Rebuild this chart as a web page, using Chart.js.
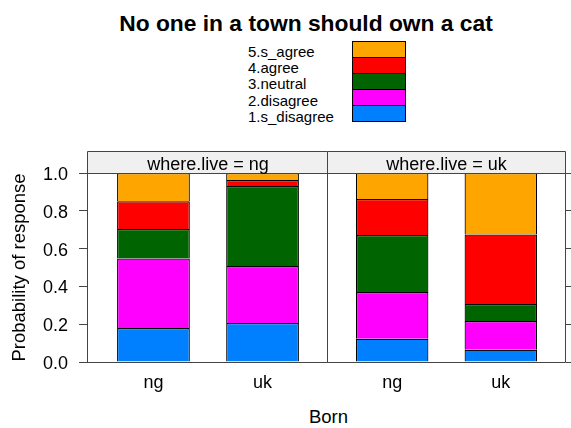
<!DOCTYPE html>
<html>
<head>
<meta charset="utf-8">
<title>No one in a town should own a cat</title>
<script src="https://cdn.jsdelivr.net/npm/chart.js@4/dist/chart.umd.min.js"></script>
<style>
    body { margin: 0; background: #fff; }
    #page {
        position: relative;
        width: 571px;
        height: 428px;
        overflow: hidden;
        font-family: 'Liberation Sans', Arial, Helvetica, sans-serif;
        color: #000;
    }
    #page canvas { position: absolute; top: 140px; }
    .title {
        position: absolute; left: 0; top: 12px; width: 612px;
        text-align: center; font-weight: bold; font-size: 22.8px; line-height: 1;
        white-space: nowrap;
    }
    .xlab {
        position: absolute; left: 0; top: 408px; width: 657px;
        text-align: center; font-size: 18.5px; line-height: 1;
    }
    .key-label {
        position: absolute; left: 248px; font-size: 15px; line-height: 16px;
        white-space: nowrap;
    }
    .key-box {
        position: absolute; left: 352px; width: 54px; height: 17px;
        box-sizing: border-box; border: 1px solid #000;
    }
</style>
</head>
<body>
<div id="page">
    <div class="title">No one in a town should own a cat</div>
    <div id="key"></div>
    <canvas id="panelNg" width="329" height="260" style="left:0"></canvas>
    <canvas id="panelUk" width="244" height="260" style="left:327px"></canvas>
    <div class="xlab">Born</div>
</div>

<script>
// response levels, bottom of the stack first
const levels = ['1.s_disagree', '2.disagree', '3.neutral', '4.agree', '5.s_agree'];
const born = ['ng', 'uk'];
const whereLive = ['ng', 'uk'];
const yTicks = [0, 0.2, 0.4, 0.6, 0.8, 1.0];

// probability of each response level (same order as levels)
const liveNgBornNg = [0.180, 0.367, 0.157, 0.146, 0.150];
const liveNgBornUk = [0.206, 0.302, 0.423, 0.032, 0.037];
const liveUkBornNg = [0.123, 0.247, 0.302, 0.190, 0.138];
const liveUkBornUk = [0.065, 0.152, 0.090, 0.367, 0.326];

const palette = ['#0080ff', '#ff00ff', '#006400', '#ff0000', '#ffa500'];
const FONT = "'Liberation Sans', Arial, Helvetica, sans-serif";

Chart.defaults.font.family = FONT;
Chart.defaults.color = '#000';

// key: text column on the left, stacked colour boxes on the right (top level first)
function buildKey() {
    const key = document.getElementById('key');
    const top = levels.slice().reverse();
    top.forEach((lvl, i) => {
        const label = document.createElement('div');
        label.className = 'key-label';
        label.style.top = (43.5 + i * 16.4) + 'px';
        label.textContent = lvl;
        key.appendChild(label);

        const box = document.createElement('div');
        box.className = 'key-box';
        box.style.top = (41 + i * 16) + 'px';
        box.style.background = palette[levels.length - 1 - i];
        key.appendChild(box);
    });
}

// strip on top of each panel plus the panel frame
const panelFrame = {
    id: 'panelFrame',
    afterDraw(chart, args, opts) {
        const { ctx, chartArea: a } = chart;
        const xl = Math.max(a.left - 0.5, 0.5);
        const xr = a.right - 0.5;
        const st = opts.stripTop + 0.5;
        const yt = a.top + 0.5;
        const yb = a.bottom + 0.5;
        ctx.save();
        ctx.fillStyle = '#f0f0f0';
        ctx.fillRect(xl, st, xr - xl, yt - st);
        ctx.strokeStyle = '#444';
        ctx.lineWidth = 1;
        ctx.beginPath();
        ctx.rect(xl, st, xr - xl, yb - st);
        ctx.moveTo(xl, yt);
        ctx.lineTo(xr, yt);
        ctx.stroke();
        ctx.fillStyle = '#000';
        ctx.font = '18px ' + FONT;
        ctx.textAlign = 'center';
        ctx.textBaseline = 'alphabetic';
        ctx.fillText('where.live = ' + opts.label, (a.left + a.right) / 2, 30);
        ctx.restore();
    }
};

function makePanel(canvasId, live, bars, first) {
    const datasets = levels.map((lvl, k) => ({
        label: lvl,
        data: bars.map((b, j) => ({ x: j + 1, y: b[k] })),
        backgroundColor: palette[k],
        borderColor: '#000',
        borderWidth: 1.2,
        barPercentage: 0.667,
        categoryPercentage: 1
    }));

    return new Chart(document.getElementById(canvasId), {
        type: 'bar',
        data: { datasets },
        options: {
            responsive: false,
            animation: false,
            events: [],
            layout: { padding: { top: 33, left: 0, right: first ? 1 : 0, bottom: 0 } },
            plugins: {
                legend: { display: false },
                tooltip: { enabled: false },
                panelFrame: { label: live, stripTop: 11 }
            },
            scales: {
                x: {
                    type: 'linear',
                    stacked: true,
                    min: 0.4,
                    max: 2.6,
                    offset: false,
                    bounds: 'data',
                    grid: { display: false, drawTicks: false },
                    border: { display: false },
                    ticks: {
                        padding: 10,
                        autoSkip: false,
                        maxRotation: 0,
                        font: { size: 18 },
                        callback: v => born[Math.round(v) - 1] ?? ''
                    },
                    afterBuildTicks: s => { s.ticks = born.map((b, i) => ({ value: i + 1 })); },
                    afterFit: s => { s.height = 38; }
                },
                y: {
                    position: first ? 'left' : 'right',
                    stacked: true,
                    min: 0,
                    max: 1,
                    border: { display: false },
                    grid: {
                        drawOnChartArea: false,
                        drawTicks: true,
                        tickLength: first ? 9 : 5,
                        color: '#444'
                    },
                    ticks: {
                        display: first,
                        padding: 11,
                        labelOffset: 2,
                        font: { size: 18 },
                        callback: v => v.toFixed(1)
                    },
                    afterBuildTicks: s => { s.ticks = yTicks.map(v => ({ value: v })); },
                    title: {
                        display: first,
                        text: 'Probability of response',
                        font: { size: 18.5 },
                        padding: { top: 9, bottom: 0 }
                    },
                    afterFit: s => { s.width = first ? 88 : 5; }
                }
            }
        },
        plugins: [panelFrame]
    });
}

buildKey();
makePanel('panelNg', whereLive[0], [liveNgBornNg, liveNgBornUk], true);
makePanel('panelUk', whereLive[1], [liveUkBornNg, liveUkBornUk], false);
</script>
</body>
</html>
